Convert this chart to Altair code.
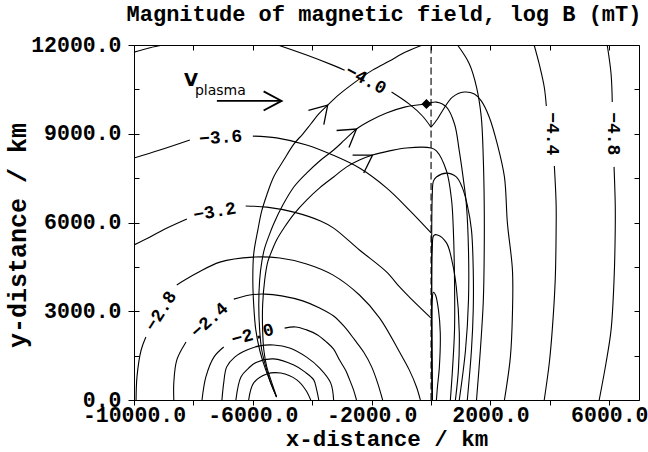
import altair as alt
import pandas as pd

# ------------------------------------------------------------------
# Contours of log B (mT) in the plane y >= 0; coordinates in km.
# Each list is one drawn stretch of a level; a level is split where
# its inline label sits.
# ------------------------------------------------------------------
m40_corner = [(-10000, 11760), (-9460, 11910), (-9020, 12000)]
m40_a = [(-5160, 12000), (-4190, 11660), (-3310, 11320), (-2910, 11150)]
m40_b = [(-1330, 10410), (-730, 10000), (-290, 9600), (0, 9220)]
m40_c = [(0, 9220), (215, 9500), (380, 9770), (720, 10240), (1120, 10410),
         (1460, 10340), (1690, 10110), (1960, 9560), (2230, 8650), (2470, 7540),
         (2570, 5980), (2740, 4390), (2740, 2940), (2670, 1450), (2470, 0)]
m36_a = [(-10000, 8180), (-9130, 8450), (-8120, 8790)]
m36_b = [(-6000, 8920), (-5200, 8860), (-4190, 8620), (-3310, 8280), (-2410, 7840),
         (-1500, 7170), (-730, 6420), (0, 5650)]
m36_r = [(40, 0), (40, 5100), (90, 5560), (215, 5580), (520, 5310), (720, 4630),
         (850, 3820), (950, 2270), (920, 1010), (820, 0)]
m32_a = [(-10000, 5240), (-9460, 5510), (-8960, 5780), (-8220, 6120)]
m32_b = [(-6240, 6560), (-5530, 6520), (-4620, 6350), (-3720, 6050), (-3280, 5810),
         (-2410, 5070), (-1500, 4330), (-1060, 3820), (-730, 3480), (0, 2770)]
m32_r = [(40, 0), (40, 3400), (80, 3640), (150, 3550), (250, 3040), (310, 2270),
         (280, 1120), (215, 440), (180, 0)]
east_inner = [(40, 0), (40, 6900), (80, 7400), (180, 7540), (520, 7670), (850, 7540),
              (1055, 7170), (1220, 6590), (1360, 5750), (1420, 4390), (1420, 3040),
              (1360, 1690), (1220, 0)]
east_outer = [(890, 12000), (1290, 11360), (1530, 10580), (1690, 9570), (1760, 8110),
              (1790, 6590), (1790, 5070), (1760, 3380), (1660, 1690), (1530, 0)]
m44_a = [(3470, 12000), (3640, 11360), (3810, 10580), (3880, 9940)]
m44_b = [(4150, 7910), (4210, 6620), (4210, 5750), (4180, 4060), (4080, 2370),
         (3980, 1250), (3810, 0)]
m48_a = [(5930, 12000), (6060, 11020), (6100, 10070)]
m48_b = [(6160, 7880), (6200, 6620), (6200, 5750), (6160, 4060), (6060, 2370),
         (5890, 1250), (5660, 0)]
m28_a = [(-9930, 0), (-9900, 780), (-9760, 1690), (-9600, 2130)]
m28_b = [(-8560, 3890), (-7880, 4290), (-7110, 4660), (-6000, 4830), (-5090, 4800),
         (-4190, 4600), (-3310, 4230), (-2410, 3550), (-1730, 2770), (-1060, 1620),
         (-730, 1010), (-490, 440), (-360, 0)]
m24_a = [(-8660, 0), (-8660, 580), (-8560, 1350), (-8250, 1960)]
m24_b = [(-6640, 3410), (-6100, 3550), (-5600, 3580), (-5030, 3520), (-4320, 3350),
         (-3750, 3110), (-3280, 2840), (-2910, 2470), (-2570, 2030), (-2270, 1620),
         (-2000, 1120), (-1800, 580), (-1630, 0)]
m20_a = [(-7710, 0), (-7580, 780), (-7310, 1450), (-6980, 1790)]
m20_b = [(-4930, 2430), (-4560, 2470), (-4190, 2370), (-3820, 2200), (-3520, 1960),
         (-3280, 1720), (-3080, 1350), (-2880, 1010), (-2740, 680), (-2610, 340),
         (-2510, 0)]
m16 = [(-7040, 0), (-6980, 580), (-6880, 1120), (-6610, 1450), (-6200, 1690),
       (-5770, 1830), (-5300, 1860), (-4760, 1760), (-4190, 1450), (-3750, 1080),
       (-3380, 580), (-3280, 0)]
m12 = [(-6570, 0), (-6400, 780), (-6140, 1080), (-5870, 1280), (-5300, 1390),
       (-4620, 1180), (-4250, 950), (-3950, 680), (-3850, 340), (-3780, 0)]
m08 = [(-6140, 0), (-5970, 580), (-5530, 880), (-5060, 910), (-4520, 680),
       (-4220, 340), (-4050, 0)]

# ------------------------------------------------------------------
# Magnetic field lines (km)
# ------------------------------------------------------------------
fl_outer = [(-5200, 100), (-5400, 580), (-5600, 1120), (-5770, 1690), (-5900, 2370),
            (-5970, 3210), (-6000, 4060), (-5970, 4940), (-5830, 5750), (-5700, 6390),
            (-5530, 6930), (-5300, 7540), (-4960, 8110), (-4620, 8650), (-4320, 8990),
            (-4050, 9330), (-3780, 9670), (-3480, 9970), (-3080, 10340), (-2510, 10780),
            (-1970, 11150), (-1400, 11460), (-860, 11760), (-290, 12000)]
fl_mid_w = [(-5200, 100), (-5400, 580), (-5560, 1120), (-5700, 1690), (-5770, 2370),
            (-5800, 3210), (-5770, 4060), (-5700, 4660), (-5600, 5140), (-5460, 5540),
            (-5300, 5950), (-4990, 6590), (-4620, 7200), (-4190, 7670), (-3750, 8080),
            (-3280, 8450), (-2910, 8790), (-2510, 9160), (-2070, 9430), (-1500, 9700),
            (-890, 9900), (-155, 10005)]
fl_mid_e = [(-155, 10005), (180, 10070), (520, 9900), (790, 9330), (950, 8420),
            (1090, 7440), (1190, 6590), (1260, 5070), (1260, 3380), (1160, 1690),
            (950, 0)]
fl_inner = [(-5200, 100), (-5360, 580), (-5530, 1120), (-5630, 1690), (-5670, 2370),
            (-5670, 3210), (-5600, 4060), (-5500, 4660), (-5400, 4940), (-5200, 5410),
            (-4930, 5850), (-4590, 6320), (-4190, 6760), (-3750, 7170), (-3280, 7540),
            (-2840, 7880), (-2410, 8110), (-1970, 8280), (-1400, 8420), (-830, 8520),
            (0, 8520), (180, 8420), (520, 7740), (690, 6760), (750, 5750), (790, 4060),
            (790, 2370), (720, 1010), (650, 0)]

# direction arrows on the field lines: tip position (km) and heading (deg, clockwise)
arrow_x = [-3480, -2510, -1970]
arrow_y = [9970, 9160, 8280]
arrow_heading = [313, 324, 328]

# marked point where the middle field line crosses x = 0
marker_x = [-155]
marker_y = [10005]

# inline level labels
level_text = ["\u22124.0", "\u22123.6", "\u22123.2", "\u22122.8", "\u22122.4",
              "\u22122.0", "\u22124.4", "\u22124.8"]
level_x = [-2200, -7080, -7280, -9080, -7450, -6000, 4060, 6140]
level_y = [10820, 8860, 6350, 3000, 2690, 2200, 9000, 9000]
level_angle = [28, 356, 350, 302, 318, 345, 90, 90]

# plasma flow annotation
flow_x0, flow_x1, flow_y = -7210, -5030, 10110
flow_v = ("V", -8320, 10610)
flow_sub = ("plasma", -7950, 10310)

title_text = "Magnitude of magnetic field, log B (mT)"

x_ticks = list(range(-10000, 7000, 2000))
y_labelled = list(range(0, 12001, 3000))
y_ticks = list(range(0, 12001, 1500))

# ------------------------------------------------------------------
parts = {
    "m40_corner": m40_corner, "m40_a": m40_a, "m40_b": m40_b, "m40_c": m40_c,
    "m36_a": m36_a, "m36_b": m36_b, "m36_r": m36_r,
    "m32_a": m32_a, "m32_b": m32_b, "m32_r": m32_r,
    "east_inner": east_inner, "east_outer": east_outer,
    "m44_a": m44_a, "m44_b": m44_b, "m48_a": m48_a, "m48_b": m48_b,
    "m28_a": m28_a, "m28_b": m28_b, "m24_a": m24_a, "m24_b": m24_b,
    "m20_a": m20_a, "m20_b": m20_b, "m16": m16, "m12": m12, "m08": m08,
    "fl_outer": fl_outer, "fl_mid_w": fl_mid_w, "fl_mid_e": fl_mid_e,
    "fl_inner": fl_inner,
}
line_df = pd.DataFrame(
    [{"curve": name, "i": k, "x": px, "y": py}
     for name, pts in parts.items() for k, (px, py) in enumerate(pts)]
)

W, H = 505, 355
MONO = "Liberation Mono"
xs = alt.Scale(domain=[-10000, 7000], nice=False, zero=False)
ys = alt.Scale(domain=[0, 12000], nice=False, zero=False)

common = dict(domainColor="black", domainWidth=1, tickColor="black", tickWidth=1,
              grid=False)

x_bottom = alt.Axis(
    orient="bottom", values=x_ticks, tickSize=5,
    labelExpr="(datum.value + 10000) % 4000 == 0 ? "
              "(datum.value < 0 ? '-' : '') + format(abs(datum.value), '.1f') : ''",
    labelFont=MONO, labelFontWeight="bold", labelFontSize=21.5, labelColor="black",
    labelPadding=-1, labelOverlap=False, labelFlush=False,
    title="x-distance / km", titleFont=MONO, titleFontWeight="bold",
    titleFontSize=22.5, titleColor="black", titleX=W / 2, titleY=45,
    titleAlign="center", titleBaseline="alphabetic", **common)
y_left = alt.Axis(
    orient="left", values=y_labelled, tickSize=6,
    labelExpr="format(datum.value, '.1f')",
    labelFont=MONO, labelFontWeight="bold", labelFontSize=21.5, labelColor="black",
    labelPadding=7, labelOverlap=False, labelFlush=False, labelBaseline="middle",
    title="y-distance / km", titleFont=MONO, titleFontWeight="bold",
    titleFontSize=25, titleColor="black", titleAngle=270, titleX=-109, titleY=190,
    titleAlign="center", titleBaseline="alphabetic", **common)
x_top = alt.Axis(orient="bottom", offset=-H, values=x_ticks, tickSize=5,
                 labels=False, title=None, **common)
y_right = alt.Axis(orient="left", offset=-W, values=y_ticks, tickSize=5,
                   labels=False, title=None, **common)
y_left_in = alt.Axis(orient="right", offset=-W, values=y_ticks, tickSize=5,
                     labels=False, title=None, domain=False, tickColor="black",
                     grid=False)

lines = alt.Chart(line_df).mark_line(
    color="black", strokeWidth=1.1, interpolate="catmull-rom", clip=True
).encode(
    x=alt.X("x:Q", scale=xs, axis=x_bottom),
    y=alt.Y("y:Q", scale=ys, axis=y_left),
    detail="curve:N",
    order="i:Q",
)

boundary = alt.Chart(pd.DataFrame({"x": [0], "y0": [0], "y1": [12000]})).mark_rule(
    color="black", strokeWidth=1.1, strokeDash=[7, 3.5]
).encode(
    x=alt.X("x:Q", scale=xs, axis=x_top),
    y=alt.Y("y0:Q", scale=ys, axis=y_right),
    y2="y1:Q",
)

marker = alt.Chart(pd.DataFrame({"x": marker_x, "y": marker_y})).mark_point(
    shape="diamond", filled=True, size=100, color="black", opacity=1
).encode(
    x=alt.X("x:Q", scale=xs, axis=None),
    y=alt.Y("y:Q", scale=ys, axis=y_left_in),
)

heads = alt.Chart(pd.DataFrame({"x": arrow_x, "y": arrow_y, "a": arrow_heading})).mark_point(
    shape="M-1,-0.62L0,0L-1,0.62", filled=False, size=1150, stroke="black",
    strokeWidth=1.3, opacity=1
).encode(
    x=alt.X("x:Q", scale=xs, axis=None),
    y=alt.Y("y:Q", scale=ys, axis=None),
    angle=alt.Angle("a:Q", scale=None),
)

labels = alt.Chart(pd.DataFrame({"t": level_text, "x": level_x, "y": level_y,
                                 "a": level_angle})).mark_text(
    font=MONO, fontWeight="bold", fontSize=18, color="black",
    align="center", baseline="middle"
).encode(
    x=alt.X("x:Q", scale=xs, axis=None),
    y=alt.Y("y:Q", scale=ys, axis=None),
    text="t:N",
    angle=alt.Angle("a:Q", scale=None),
)

flow_shaft = alt.Chart(pd.DataFrame({"x0": [flow_x0], "x1": [flow_x1], "y": [flow_y]})).mark_rule(
    color="black", strokeWidth=1.8
).encode(
    x=alt.X("x0:Q", scale=xs, axis=None), x2="x1:Q",
    y=alt.Y("y:Q", scale=ys, axis=None),
)
flow_head = alt.Chart(pd.DataFrame({"x": [flow_x1], "y": [flow_y]})).mark_point(
    shape="M-1,-0.53L0,0L-1,0.53", filled=False, size=1300, stroke="black",
    strokeWidth=1.8, opacity=1
).encode(
    x=alt.X("x:Q", scale=xs, axis=None),
    y=alt.Y("y:Q", scale=ys, axis=None),
)
flow_v_text = alt.Chart(pd.DataFrame({"t": [flow_v[0]], "x": [flow_v[1]], "y": [flow_v[2]]})).mark_text(
    font="DejaVu Sans", fontWeight="bold", fontSize=18, color="black",
    align="left", baseline="alphabetic"
).encode(x=alt.X("x:Q", scale=xs, axis=None), y=alt.Y("y:Q", scale=ys, axis=None), text="t:N")
flow_sub_text = alt.Chart(pd.DataFrame({"t": [flow_sub[0]], "x": [flow_sub[1]], "y": [flow_sub[2]]})).mark_text(
    font="DejaVu Sans", fontSize=14, color="black", align="left", baseline="alphabetic"
).encode(x=alt.X("x:Q", scale=xs, axis=None), y=alt.Y("y:Q", scale=ys, axis=None), text="t:N")

heading = alt.Chart(pd.DataFrame({"t": [title_text]})).mark_text(
    font=MONO, fontWeight="bold", fontSize=22, color="black",
    align="center", baseline="alphabetic"
).encode(x=alt.value(250), y=alt.value(-24), text="t:N")

chart = alt.layer(
    lines, boundary, marker, heads, labels, flow_shaft, flow_head,
    flow_v_text, flow_sub_text, heading
).resolve_axis(
    x="independent", y="independent"
).properties(
    width=W, height=H,
    autosize=alt.AutoSizeParams(type="none"),
    padding={"left": 134, "top": 45, "right": 9, "bottom": 52},
    background="white",
).configure_view(stroke=None)

chart.save("out.html", embed_options={"renderer": "svg", "actions": False})
